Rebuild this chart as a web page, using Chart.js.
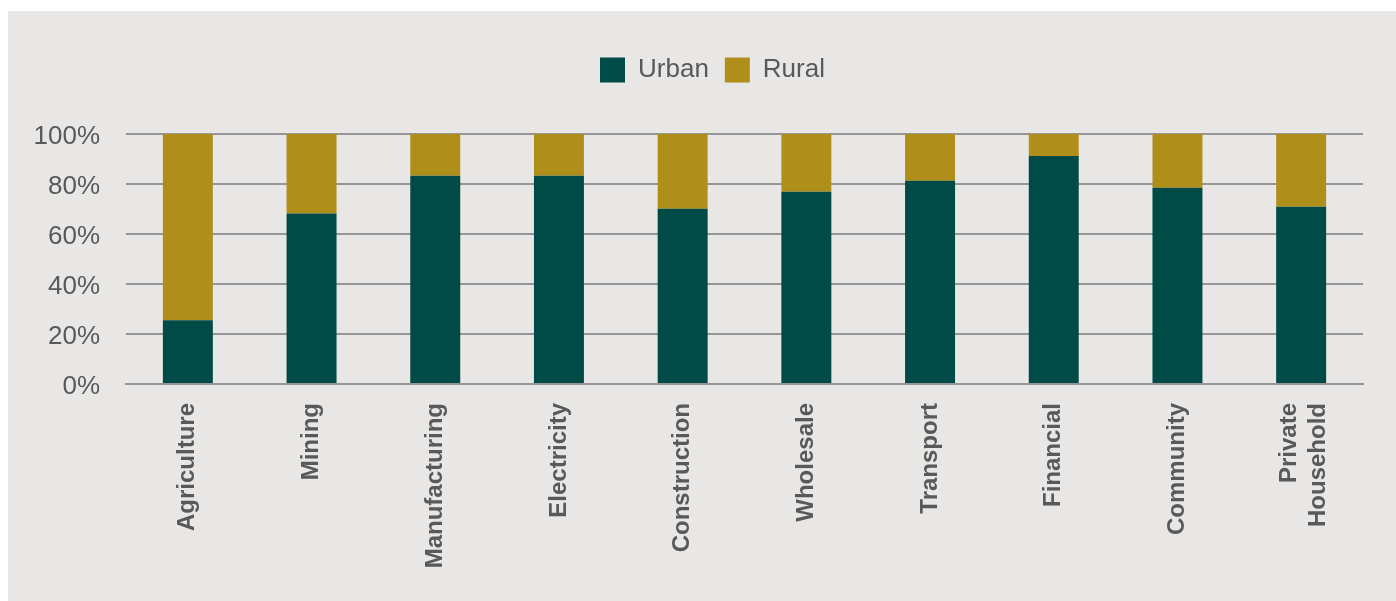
<!DOCTYPE html>
<html>
<head>
<meta charset="utf-8">
<script src="https://cdn.jsdelivr.net/npm/chart.js@4/dist/chart.umd.min.js"></script>
<style>
  html, body { margin: 0; padding: 0; background: #ffffff; }
  #panel { position: absolute; left: 8px; top: 11px; width: 1388px; height: 590px; background: #e8e7e5; }
  canvas { display: block; }
</style>
</head>
<body>
<div id="panel"><canvas id="sectors" width="1388" height="590"></canvas></div>
<script>
// share of employment by sector, urban vs rural (%)
const sectors = ['Agriculture', 'Mining', 'Manufacturing', 'Electricity', 'Construction',
    'Wholesale', 'Transport', 'Financial', 'Community', ['Private', 'Household']];
const urban = [25.5, 68.2, 83.3, 83.3, 70.1, 76.9, 81.3, 91.2, 78.5, 70.9];
const rural = [74.5, 31.8, 16.7, 16.7, 29.9, 23.1, 18.7, 8.8, 21.5, 29.1];
const yTicks = [0, 20, 40, 60, 80, 100];

const textColor = '#595959';
const gridColor = '#969696';
const fontFamily = 'Liberation Sans, Arial, sans-serif';

// push the plot down below the legend and nudge the legend right a bit
const legendPlacement = {
    id: 'legendPlacement',
    beforeInit(chart) {
        const fit = chart.legend.fit;
        chart.legend.fit = function () {
            fit.call(this);
            this.height += 41;
        };
    },
    afterLayout(chart) {
        chart.legend.left += 27;
        chart.legend.right += 27;
    }
};

// small label tweaks: centre the two-line x label on its bar,
// and sit the y labels a touch below their gridlines like the original
const labelTweaks = {
    id: 'labelTweaks',
    beforeDraw(chart) {
        chart.scales.x.getLabelItems().forEach(function(it) {
            if (Array.isArray(it.label) && !it._shifted) {
                it.options.translation[0] -= (it.label.length - 1) * it.font.lineHeight / 2 - 3;
                it._shifted = true;
            }
        });
        chart.scales.y.getLabelItems().forEach(function(it) {
            if (!it._shifted) {
                it.options.translation[1] += 3;
                it._shifted = true;
            }
        });
    }
};

document.addEventListener("DOMContentLoaded", function() {
    var ctx = document.getElementById('sectors').getContext('2d');
    new Chart(ctx, {
        type: 'bar',
        data: {
            labels: sectors,
            datasets: [{
                label: 'Urban',
                data: urban,
                backgroundColor: '#004b47',
                barPercentage: 0.404,
                categoryPercentage: 1,
            }, {
                label: 'Rural',
                data: rural,
                backgroundColor: '#af8f19',
                barPercentage: 0.404,
                categoryPercentage: 1,
            }]
        },
        options: {
            responsive: false,
            animation: false,
            layout: { padding: { top: 30, right: 33, bottom: 0, left: 0 } },
            plugins: {
                legend: {
                    position: 'top',
                    labels: {
                        boxWidth: 25,
                        boxHeight: 25,
                        padding: 16,
                        color: textColor,
                        font: { family: fontFamily, size: 26 },
                    },
                },
                tooltip: { enabled: false },
            },
            scales: {
                x: {
                    stacked: true,
                    grid: { display: false, drawTicks: false },
                    border: { display: true, color: gridColor, width: 2 },
                    ticks: {
                        minRotation: 90,
                        maxRotation: 90,
                        padding: 19,
                        color: textColor,
                        font: { family: fontFamily, size: 24, weight: 'bold' },
                    },
                    afterFit: function(scale) { scale.height = 217; },
                },
                y: {
                    stacked: true,
                    min: 0,
                    max: 100,
                    afterBuildTicks: function(scale) {
                        scale.ticks = yTicks.map(v => ({ value: v }));
                    },
                    grid: { color: gridColor, lineWidth: 2, drawTicks: false },
                    border: { display: false },
                    ticks: {
                        padding: 26,
                        color: textColor,
                        font: { family: fontFamily, size: 26 },
                        callback: v => v + '%',
                    },
                    afterFit: function(scale) { scale.width = 118; },
                },
            },
        },
        plugins: [legendPlacement, labelTweaks],
    });
});
</script>
</body>
</html>
